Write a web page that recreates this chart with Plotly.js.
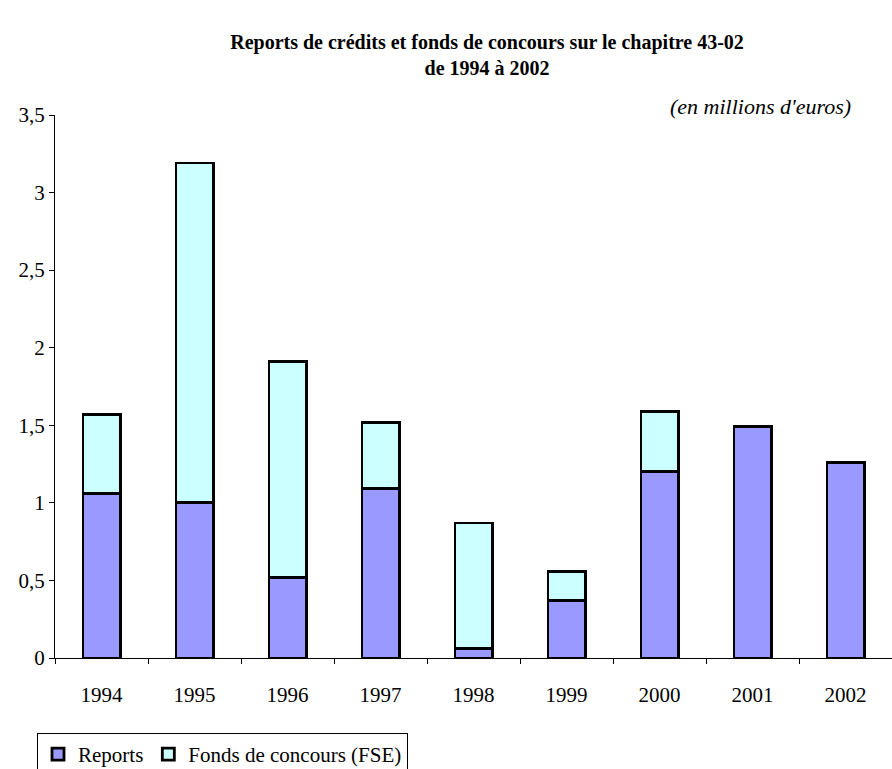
<!DOCTYPE html>
<html>
<head>
<meta charset="utf-8">
<script src="https://cdn.plot.ly/plotly-3.0.1.min.js"></script>
<style>
  html, body { margin: 0; padding: 0; background: #fff; }
  #chart { width: 892px; height: 769px; }
</style>
</head>
<body>
<div id="chart"></div>
<script>
// Years on the category axis
const years = ['1994', '1995', '1996', '1997', '1998', '1999', '2000', '2001', '2002'];

// Carry-overs of credits (millions of euros)
const reports = [1.06, 1.00, 0.52, 1.09, 0.06, 0.37, 1.20, 1.49, 1.26];

// ESF matching funds (millions of euros), stacked on top of the carry-overs
const fondsConcours = [0.51, 2.19, 1.39, 0.43, 0.81, 0.19, 0.39, 0, 0];

// Y axis tick labels
const yTickVals = [0, 0.5, 1, 1.5, 2, 2.5, 3, 3.5];
const yTickText = ['0', '0,5', '1', '1,5', '2', '2,5', '3', '3,5'];

const serif = 'Liberation Serif, Times New Roman, serif';

const traces = [
  {
    type: 'bar',
    name: 'Reports',
    x: years,
    y: reports,
    marker: { color: '#9999FF', line: { color: '#000', width: 2.8 } }
  },
  {
    type: 'bar',
    name: 'Fonds de concours (FSE)',
    x: years,
    y: fondsConcours,
    marker: { color: '#CCFFFF', line: { color: '#000', width: 2.8 } }
  }
];

const layout = {
  width: 892,
  height: 769,
  barmode: 'stack',
  bargap: 0.6,
  paper_bgcolor: '#fff',
  plot_bgcolor: '#fff',
  font: { family: serif, size: 20, color: '#000' },
  margin: { l: 55, r: 0, t: 115, b: 111 },
  title: {
    text: '<b>Reports de crédits et fonds de concours sur le chapitre 43-02<br>de 1994 à 2002</b>',
    font: { family: serif, size: 20, color: '#000' },
    xref: 'container',
    yref: 'container',
    x: 0.546,
    xanchor: 'center',
    y: 1 - 49 / 769,
    yanchor: 'top'
  },
  xaxis: {
    type: 'category',
    showline: true,
    linecolor: '#000',
    linewidth: 1,
    ticks: 'outside',
    tickson: 'boundaries',
    ticklen: 5,
    tickcolor: '#000',
    showgrid: false,
    zeroline: false,
    ticklabelstandoff: 18,
    tickfont: { family: serif, size: 21, color: '#000' }
  },
  yaxis: {
    range: [0, 3.5],
    tickmode: 'array',
    tickvals: yTickVals,
    ticktext: yTickText,
    showline: true,
    linecolor: '#000',
    linewidth: 1,
    ticks: 'outside',
    ticklen: 5,
    tickcolor: '#000',
    showgrid: false,
    zeroline: false,
    tickfont: { family: serif, size: 21, color: '#000' }
  },
  legend: {
    orientation: 'h',
    xref: 'container',
    yref: 'container',
    x: 37 / 892,
    xanchor: 'left',
    y: 1 - 733 / 769,
    yanchor: 'top',
    bordercolor: '#000',
    borderwidth: 1,
    itemwidth: 30,
    traceorder: 'normal',
    font: { family: serif, size: 21, color: '#000' }
  },
  annotations: [
    {
      text: "(en millions d'euros)",
      xref: 'paper',
      yref: 'paper',
      x: 0.953,
      xanchor: 'right',
      y: 1.015,
      yanchor: 'middle',
      showarrow: false,
      font: { family: serif, size: 22, color: '#000', style: 'italic' }
    }
  ],
  showlegend: true
};

Plotly.newPlot('chart', traces, layout, { displayModeBar: false, staticPlot: true });
</script>
</body>
</html>
